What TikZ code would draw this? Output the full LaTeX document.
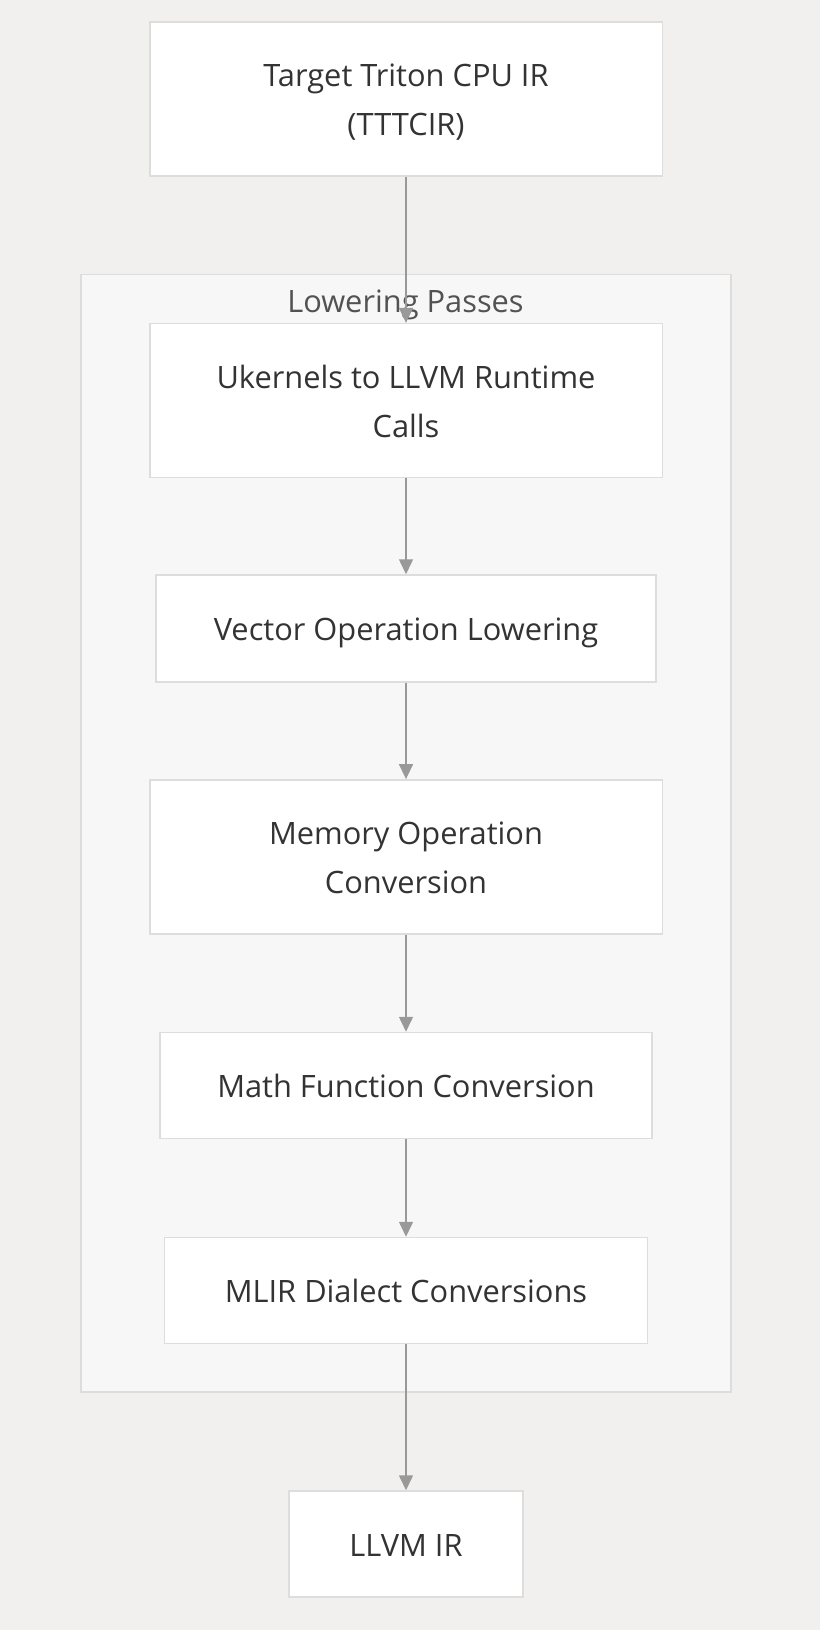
\documentclass[tikz,border=0pt]{standalone}
\usepackage{fontspec}
\setmainfont{Open Sans}
\usetikzlibrary{arrows.meta}
\definecolor{bgc}{HTML}{F1F0EF}
\definecolor{clfill}{HTML}{F7F7F7}
\definecolor{clline}{HTML}{DDDDDD}
\definecolor{boxline}{HTML}{DDDDDD}
\definecolor{txt}{HTML}{333333}
\definecolor{arr}{HTML}{999999}
\newcommand\tstrut{\rule[-14.7pt]{0pt}{54.2pt}}
\newcommand\bstrut{\rule[-14.7pt]{0pt}{49pt}}
\tikzset{
  box/.style={draw=boxline, line width=1.5pt, fill=white, align=center, text=txt,
    font=\fontsize{30.8}{49}\selectfont, inner sep=0pt},
  flow/.style={draw=arr, line width=1.5pt, -{Triangle[length=15pt,width=14pt]}},
  cluster/.style={draw=clline, line width=1.5pt, fill=clfill},
}
\begin{document}
\begin{tikzpicture}[x=1pt,y=-1pt]
\useasboundingbox[fill=bgc] (0,0) rectangle (820,1630);
\draw[cluster] (81,274.4) rectangle (730.8,1391.9);
\node[text=txt!85!white, font=\fontsize{30.8}{49}\selectfont, inner sep=0pt] (cl) at (405.5,300) {\tstrut Lowering Passes};
\node[box, minimum width=512.5pt, minimum height=153.9pt] (a) at (406,99) {\tstrut Target Triton CPU IR\\\bstrut (TTTCIR)};
\node[box, minimum width=512.5pt, minimum height=153.8pt] (b) at (406,400.5) {\tstrut Ukernels to LLVM Runtime\\\bstrut Calls};
\node[box, minimum width=500pt, minimum height=107pt] (c) at (406,628.5) {\tstrut Vector Operation Lowering};
\node[box, minimum width=512.5pt, minimum height=153.9pt] (d) at (406,856.8) {\tstrut Memory Operation\\\bstrut Conversion};
\node[box, minimum width=491.8pt, minimum height=106pt] (e) at (406,1085.5) {\tstrut Math Function Conversion};
\node[box, minimum width=483.4pt, minimum height=106pt] (f) at (406,1290.5) {\tstrut MLIR Dialect Conversions};
\node[box, minimum width=233.9pt, minimum height=106pt] (g) at (406,1544) {\tstrut LLVM IR};
\draw[flow] (a) -- (b);
\draw[flow] (b) -- (c);
\draw[flow] (c) -- (d);
\draw[flow] (d) -- (e);
\draw[flow] (e) -- (f);
\draw[flow] (f) -- (g);
\end{tikzpicture}
\end{document}
